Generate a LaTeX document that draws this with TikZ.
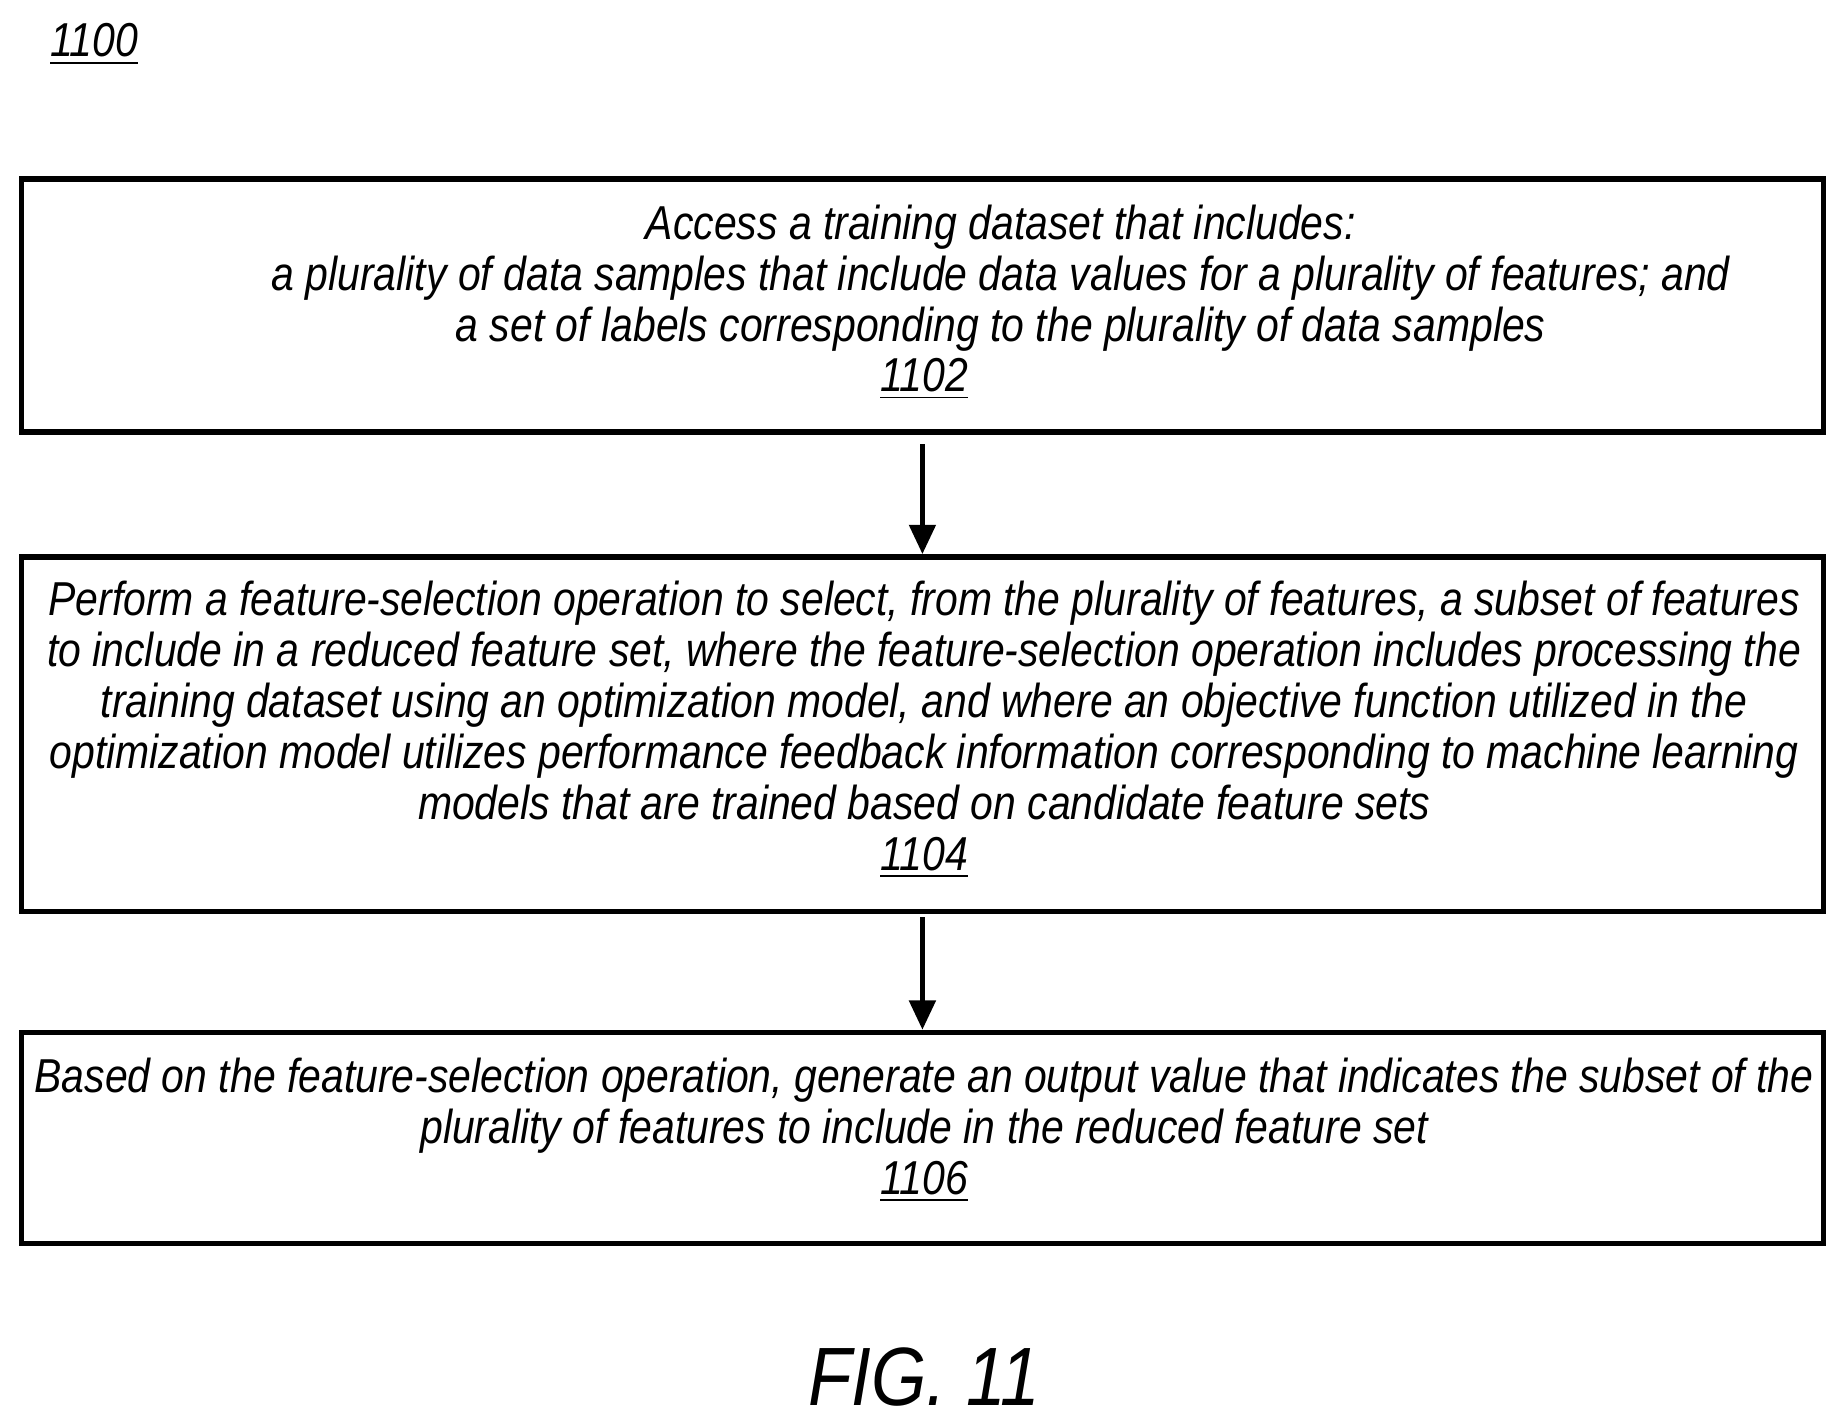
\documentclass[tikz,border=0pt]{standalone}
\usepackage{fontspec}
\setmainfont{Liberation Sans}[FakeStretch=0.86]
\usetikzlibrary{arrows.meta}
\begin{document}
\begin{tikzpicture}[
  box/.style={draw,line width=1.3pt,minimum width=15.31cm,inner sep=0pt},
  txt/.style={align=center,font=\fontsize{11.5pt}{12.3pt}\selectfont\itshape,inner sep=0pt},
  arr/.style={line width=1.3pt,-{Triangle[length=0.25cm,width=0.22cm]}}]
\useasboundingbox (0,0) rectangle (15.68,-12.09);
\node[txt,anchor=west] (lab) at (0.42,-0.38) {\underline{1100}};
\node[box,minimum height=2.15cm] (b1) at (7.835,-2.595) {};
\node[box,minimum height=3.01cm] (b2) at (7.835,-6.235) {};
\node[box,minimum height=1.79cm] (b3) at (7.835,-9.665) {};
\node[txt] (t1) at (8.5,-2.36) {Access a training dataset that includes:\\a plurality of data samples that include data values for a plurality of features; and\\a set of labels corresponding to the plurality of data samples};
\node[txt] (n1) at (7.85,-3.22) {\underline{1102}};
\node[txt] (t2) at (7.85,-6.2) {Perform a feature-selection operation to select, from the plurality of features, a subset of features\\to include in a reduced feature set, where the feature-selection operation includes processing the\\training dataset using an optimization model, and where an objective function utilized in the\\optimization model utilizes performance feedback information corresponding to machine learning\\models that are trained based on candidate feature sets\\\underline{1104}};
\node[txt] (t3) at (7.85,-9.6) {Based on the feature-selection operation, generate an output value that indicates the subset of the\\plurality of features to include in the reduced feature set\\\underline{1106}};
\node[font=\fontsize{20pt}{22pt}\selectfont\itshape] (fig) at (7.85,-11.7) {FIG. 11};
\draw[arr] (b1.south) ++(0,-0.08) coordinate (a1) -- (b2.north);
\draw[arr] (b2.south) ++(0,-0.03) -- (b3.north);
\end{tikzpicture}
\end{document}
